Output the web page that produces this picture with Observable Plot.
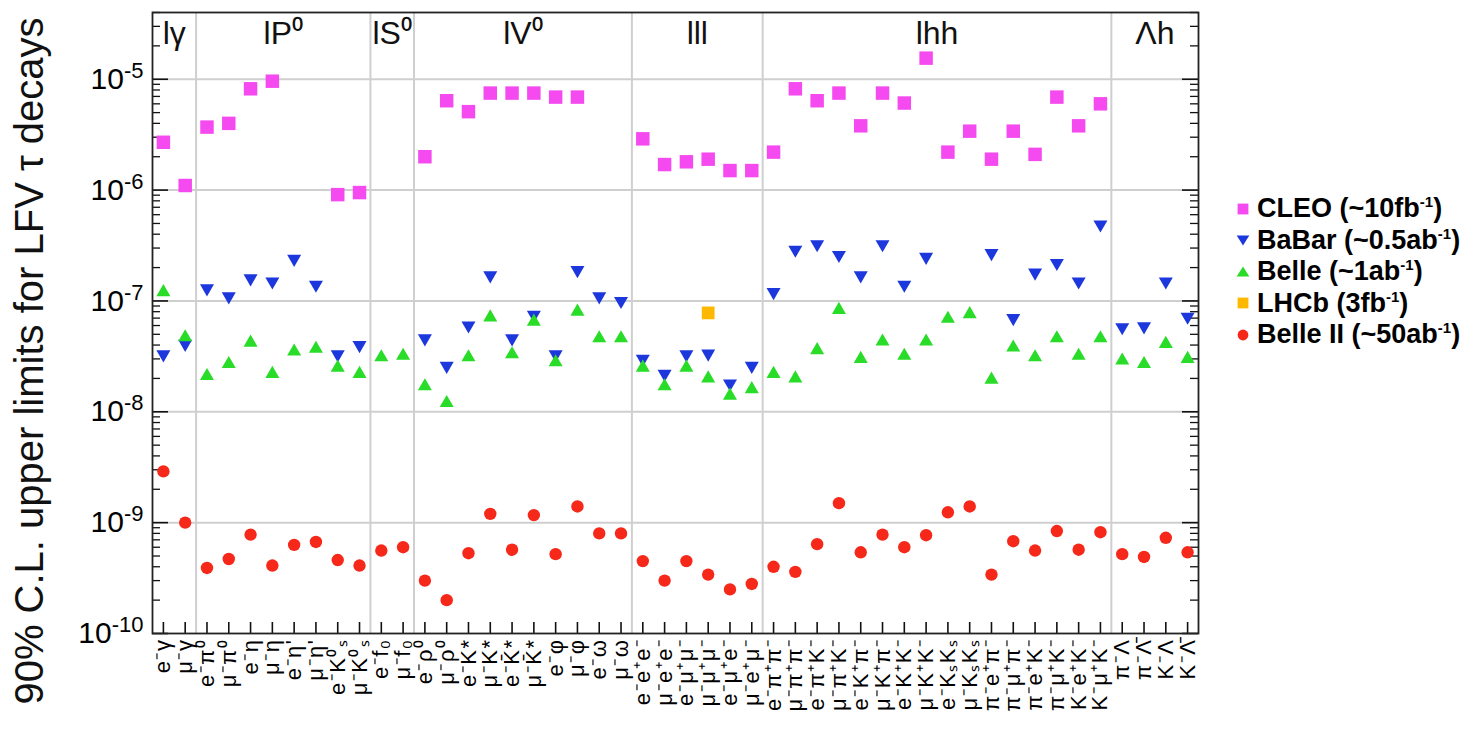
<!DOCTYPE html>
<html><head><meta charset="utf-8">
<script src="https://cdn.jsdelivr.net/npm/d3@7"></script>
<script src="https://cdn.jsdelivr.net/npm/@observablehq/plot@0.6"></script>
<style>
body{margin:0;background:#fff;font-family:"Liberation Sans",Arial,sans-serif;}
#wrap{position:relative;width:1480px;height:729px;overflow:hidden;}
#legend{position:absolute;left:1234px;top:193px;font-weight:bold;font-size:27px;color:#000;}
#legend .it{display:flex;align-items:center;white-space:nowrap;height:31.5px;}
#legend svg{width:18px;height:18px;margin-right:5px;flex:none;}
#legend sup{font-size:15px;line-height:0;vertical-align:0;position:relative;top:-10px;}
</style></head><body><div id="wrap"><div id="chart"></div><div id="legend"></div></div>
<script>
// ---------- data ----------
const groups = ["lγ", "lP⁰", "lS⁰", "lV⁰", "lll", "lhh", "Λh"];
const groupSizes = [2, 8, 2, 10, 6, 16, 4];
const modes = [
  "e⁻γ", "μ⁻γ",
  "e⁻π⁰", "μ⁻π⁰", "e⁻η", "μ⁻η", "e⁻η'", "μ⁻η'", "e⁻K⁰ₛ", "μ⁻K⁰ₛ",
  "e⁻f₀", "μ⁻f₀",
  "e⁻ρ⁰", "μ⁻ρ⁰", "e⁻K*", "μ⁻K*", "e⁻K̄*", "μ⁻K̄*", "e⁻φ", "μ⁻φ", "e⁻ω", "μ⁻ω",
  "e⁻e⁺e⁻", "μ⁻e⁺e⁻", "e⁻μ⁺μ⁻", "μ⁻μ⁺μ⁻", "e⁻μ⁺e⁻", "μ⁻e⁺μ⁻",
  "e⁻π⁺π⁻", "μ⁻π⁺π⁻", "e⁻π⁺K⁻", "μ⁻π⁺K⁻", "e⁻K⁺π⁻", "μ⁻K⁺π⁻", "e⁻K⁺K⁻", "μ⁻K⁺K⁻",
  "e⁻KₛKₛ", "μ⁻KₛKₛ", "π⁻e⁺π⁻", "π⁻μ⁺π⁻", "π⁻e⁺K⁻", "π⁻μ⁺K⁻", "K⁻e⁺K⁻", "K⁻μ⁺K⁻",
  "π⁻Λ", "π⁻Λ̄", "K⁻Λ", "K⁻Λ̄"
];
const cleo = [
  2.7e-6, 1.1e-6,
  3.7e-6, 4.0e-6, 8.2e-6, 9.6e-6, null, null, 9.1e-7, 9.5e-7,
  null, null,
  2.0e-6, 6.4e-6, 5.1e-6, 7.5e-6, 7.5e-6, 7.5e-6, 6.9e-6, 6.9e-6, null, null,
  2.9e-6, 1.7e-6, 1.8e-6, 1.9e-6, 1.5e-6, 1.5e-6,
  2.2e-6, 8.2e-6, 6.4e-6, 7.5e-6, 3.8e-6, 7.5e-6, 6.1e-6, 1.55e-5,
  2.2e-6, 3.4e-6, 1.9e-6, 3.4e-6, 2.1e-6, 6.9e-6, 3.8e-6, 6.0e-6,
  null, null, null, null
];
const babar = [
  3.3e-8, 4.1e-8,
  1.3e-7, 1.1e-7, 1.6e-7, 1.5e-7, 2.4e-7, 1.4e-7, 3.3e-8, 4.0e-8,
  null, null,
  4.6e-8, 2.6e-8, 6.0e-8, 1.7e-7, 4.6e-8, 7.5e-8, 3.3e-8, 1.9e-7, 1.1e-7, 1.0e-7,
  3.0e-8, 2.2e-8, 3.3e-8, 3.35e-8, 1.8e-8, 2.6e-8,
  1.2e-7, 2.9e-7, 3.25e-7, 2.6e-7, 1.7e-7, 3.25e-7, 1.4e-7, 2.5e-7,
  null, null, 2.7e-7, 7.0e-8, 1.8e-7, 2.2e-7, 1.5e-7, 4.9e-7,
  5.8e-8, 5.9e-8, 1.5e-7, 7.2e-8
];
const belle = [
  1.2e-7, 4.7e-8,
  2.1e-8, 2.7e-8, 4.2e-8, 2.2e-8, 3.5e-8, 3.7e-8, 2.5e-8, 2.2e-8,
  3.1e-8, 3.2e-8,
  1.7e-8, 1.2e-8, 3.1e-8, 7.1e-8, 3.3e-8, 6.5e-8, 2.8e-8, 8.0e-8, 4.6e-8, 4.6e-8,
  2.5e-8, 1.7e-8, 2.5e-8, 2.0e-8, 1.4e-8, 1.6e-8,
  2.2e-8, 2.0e-8, 3.6e-8, 8.3e-8, 3.0e-8, 4.3e-8, 3.2e-8, 4.3e-8,
  6.9e-8, 7.6e-8, 1.95e-8, 3.8e-8, 3.1e-8, 4.6e-8, 3.2e-8, 4.6e-8,
  2.9e-8, 2.7e-8, 4.1e-8, 3.0e-8
];
const lhcb = [
  null, null,
  null, null, null, null, null, null, null, null,
  null, null,
  null, null, null, null, null, null, null, null, null, null,
  null, null, null, 7.8e-8, null, null,
  null, null, null, null, null, null, null, null,
  null, null, null, null, null, null, null, null,
  null, null, null, null
];
const belle2 = [
  2.9e-9, 1.0e-9,
  3.9e-10, 4.7e-10, 7.8e-10, 4.1e-10, 6.3e-10, 6.7e-10, 4.6e-10, 4.1e-10,
  5.6e-10, 6.0e-10,
  3.0e-10, 2.0e-10, 5.3e-10, 1.2e-9, 5.7e-10, 1.17e-9, 5.2e-10, 1.4e-9, 8.0e-10, 8.0e-10,
  4.5e-10, 3.0e-10, 4.5e-10, 3.4e-10, 2.5e-10, 2.8e-10,
  4.0e-10, 3.6e-10, 6.4e-10, 1.5e-9, 5.4e-10, 7.8e-10, 6.0e-10, 7.7e-10,
  1.24e-9, 1.4e-9, 3.4e-10, 6.8e-10, 5.6e-10, 8.4e-10, 5.7e-10, 8.2e-10,
  5.2e-10, 4.9e-10, 7.3e-10, 5.4e-10
];
const seriesNames = ["CLEO", "BaBar", "Belle", "LHCb", "Belle II"];
const seriesLegend = [["CLEO (~10fb", "-1", ")"], ["BaBar (~0.5ab", "-1", ")"], ["Belle (~1ab", "-1", ")"], ["LHCb (3fb", "-1", ")"], ["Belle II (~50ab", "-1", ")"]];
const seriesColors = ["#f54af0", "#1c37dc", "#28dc28", "#ffb800", "#f5281a"];
const yTitle = "90% C.L. upper limits for LFV τ decays";
const decadeTicks = [1e-10, 1e-9, 1e-8, 1e-7, 1e-6, 1e-5];

// ---------- derived tables ----------
const seriesValues = [cleo, babar, belle, lhcb, belle2];
const points = seriesNames.map((name, s) =>
  seriesValues[s].map((v, i) => ({series: name, i, v})).filter(d => d.v != null));
let acc = 0;
const groupTable = groups.map((g, k) => {
  const start = acc; acc += groupSizes[k];
  return {g, center: (start + acc - 1) / 2, end: acc - 0.5};
});
const separators = groupTable.slice(0, -1).map(d => d.end);
const minorTicks = [];
for (let e = -10; e <= -5; e++) for (let k = 2; k <= 9; k++) {
  const v = k * Math.pow(10, e); if (v <= 4e-5) minorTicks.push(v);
}
const idx = modes.map((_, i) => i);

const W = 1480, H = 729, mL = 152, mR = 282, mT = 12, mB = 96;
const fw = W - mL - mR, fh = H - mT - mB;

const chart = Plot.plot({
  width: W, height: H,
  marginLeft: mL, marginRight: mR, marginTop: mT, marginBottom: mB,
  style: {fontFamily: "'Liberation Sans', Arial, sans-serif", background: "#fff", color: "#000"},
  x: {type: "linear", domain: [-0.5, modes.length - 0.5], label: null},
  y: {type: "log", domain: [1e-10, 4e-5], label: null},
  marks: [
    Plot.ruleY(decadeTicks.slice(1), {stroke: "#cfcfcf", strokeWidth: 2}),
    Plot.ruleX(separators, {stroke: "#cfcfcf", strokeWidth: 2}),
    // inner ticks
    Plot.tickY(decadeTicks, {y: d => d, stroke: "#111", strokeWidth: 1.6, insetRight: fw - 16}),
    Plot.tickY(minorTicks, {y: d => d, stroke: "#111", strokeWidth: 1.3, insetRight: fw - 8}),
    Plot.tickY(decadeTicks, {y: d => d, stroke: "#111", strokeWidth: 1.6, insetLeft: fw - 16}),
    Plot.tickY(minorTicks, {y: d => d, stroke: "#111", strokeWidth: 1.3, insetLeft: fw - 8}),
    Plot.tickX(idx, {x: d => d, stroke: "#111", strokeWidth: 1.6, insetTop: fh - 11}),
    // axes
    Plot.axisY({ticks: decadeTicks, tickSize: 0, tickPadding: 9, fontSize: 30, label: null,
      tickFormat: d => "10|" + Math.round(Math.log10(d))}),
    Plot.axisX({ticks: idx, tickSize: 0, tickPadding: 5, tickRotate: -90, fontSize: 22, label: null,
      tickFormat: i => modes[i]}),
    // group headers
    Plot.text(groupTable, {x: "center", text: "g", frameAnchor: "top", dy: 9, fontSize: 32, fill: "#111"}),
    // y title
    Plot.text([yTitle], {frameAnchor: "left", textAnchor: "middle", dx: -122, dy: 38, rotate: -90, fontSize: 40, fill: "#111"}),
    // data
    Plot.dot(points[0], {x: "i", y: "v", symbol: "square", r: 7.6, fill: seriesColors[0]}),
    Plot.dot(points[1], {x: "i", y: "v", symbol: "triangle", rotate: 180, r: 5.2, fill: seriesColors[1]}),
    Plot.dot(points[2], {x: "i", y: "v", symbol: "triangle", r: 5.2, fill: seriesColors[2]}),
    Plot.dot(points[3], {x: "i", y: "v", symbol: "square", r: 7.2, fill: seriesColors[3]}),
    Plot.dot(points[4], {x: "i", y: "v", symbol: "circle", r: 6.2, fill: seriesColors[4]}),
    Plot.frame({stroke: "#222", strokeWidth: 1.8})
  ]
});
document.getElementById("chart").appendChild(chart);

// letter spacing on x tick labels, superscript exponents on y tick labels
chart.querySelectorAll('g[aria-label="x-axis tick label"] text').forEach(t => t.setAttribute("letter-spacing", "1.5"));
chart.querySelectorAll('g[aria-label="y-axis tick label"] text').forEach(t => {
  const s = t.textContent; if (!s.includes("|")) return;
  const [b, e] = s.split("|");
  t.textContent = "";
  const ns = "http://www.w3.org/2000/svg";
  const t1 = document.createElementNS(ns, "tspan"); t1.textContent = b;
  const t2 = document.createElementNS(ns, "tspan"); t2.textContent = e;
  t2.setAttribute("dy", "-0.5em"); t2.setAttribute("font-size", "22");
  t.appendChild(t1); t.appendChild(t2);
});

// legend
const shapes = [
  '<rect x="4" y="4" width="12" height="12"/>',
  '<path d="M3,5 L17,5 L10,16 Z"/>',
  '<path d="M3,15 L17,15 L10,4 Z"/>',
  '<rect x="4" y="4" width="12" height="12"/>',
  '<circle cx="10" cy="10" r="6"/>'
];
document.getElementById("legend").innerHTML = seriesLegend.map((p, s) =>
  `<div class="it"><svg viewBox="0 0 20 20" fill="${seriesColors[s]}">${shapes[s]}</svg><span>${p[0]}<sup>${p[1]}</sup>${p[2]}</span></div>`
).join("");
</script></body></html>
